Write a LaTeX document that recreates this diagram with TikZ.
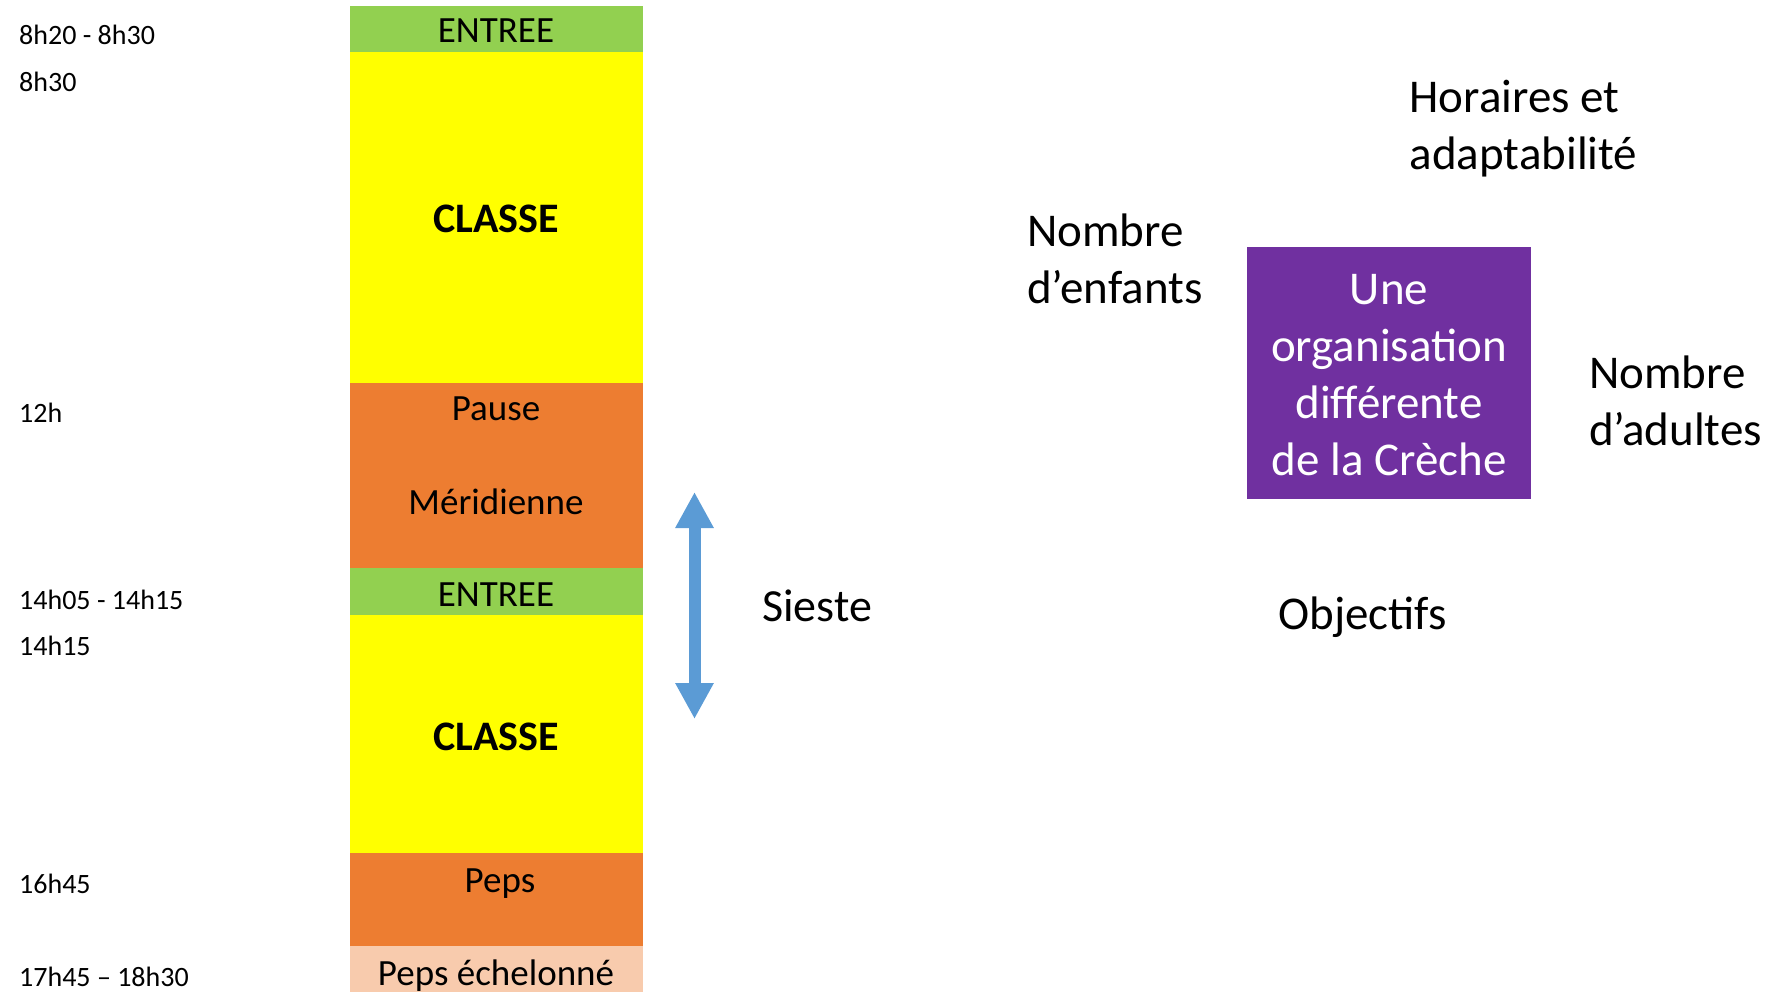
\documentclass[tikz,border=0pt]{standalone}
\usepackage{fontspec}
\setmainfont{Carlito}
\usetikzlibrary{arrows.meta}
\definecolor{cgreen}{HTML}{92D050}
\definecolor{cyellow}{HTML}{FFFF00}
\definecolor{corange}{HTML}{ED7D31}
\definecolor{cpeach}{HTML}{F8CBAD}
\definecolor{cpurple}{HTML}{7030A0}
\definecolor{cblue}{HTML}{5B9BD5}
\tikzset{
  blk/.style={rectangle, inner sep=0pt, minimum width=293.5pt, anchor=north west, draw=none},
  tlabel/.style={anchor=west, inner sep=0pt, font=\fontsize{28}{33}\selectfont},
  clabel/.style={inner sep=0pt, font=\fontsize{37}{44}\selectfont},
  blabel/.style={inner sep=0pt, font=\fontsize{42}{50}\selectfont\bfseries},
  rlabel/.style={anchor=west, inner sep=0pt, align=left, font=\fontsize{47}{57}\selectfont},
}
\begin{document}
\begin{tikzpicture}[x=1pt,y=-1pt]
\useasboundingbox (0,0) rectangle (1791,991);
% column blocks
\node[blk, fill=cgreen, minimum height=45.7pt] (e1) at (349.5,5.7) {};
\node[blk, fill=cyellow, minimum height=331.2pt] (c1) at (349.5,51.4) {};
\node[blk, fill=corange, minimum height=185.1pt] (p1) at (349.5,382.6) {};
\node[blk, fill=cgreen, minimum height=46.8pt] (e2) at (349.5,567.7) {};
\node[blk, fill=cyellow, minimum height=238.7pt] (c2) at (349.5,614.5) {};
\node[blk, fill=corange, minimum height=92.5pt] (pp) at (349.5,853.2) {};
\node[blk, fill=cpeach, minimum height=46pt] (pe) at (349.5,945.7) {};
% column texts
\node[clabel] (te1) at (496,31) {ENTREE};
\node[blabel] (tc1) at (496,219) {CLASSE};
\node[clabel] (tp1) at (496,409) {Pause};
\node[clabel] (tm1) at (496,502) {Méridienne};
\node[clabel] (te2) at (496,595) {ENTREE};
\node[blabel] (tc2) at (496,737) {CLASSE};
\node[clabel] (tpp) at (500,884) {Peps};
\node[clabel] (tpe) at (496,976) {Peps échelonné};
% time labels
\node[tlabel] (h1) at (19,35) {8h20 - 8h30};
\node[tlabel] (h2) at (19,82) {8h30};
\node[tlabel] (h3) at (19,413) {12h};
\node[tlabel] (h4) at (19,600) {14h05 - 14h15};
\node[tlabel] (h5) at (19,646) {14h15};
\node[tlabel] (h6) at (19,884) {16h45};
\node[tlabel] (h7) at (19,977) {17h45 – 18h30};
% sieste arrow
\coordinate (st) at (694.5,492);
\coordinate (sb) at (694.5,719);
\draw[cblue, line width=12pt, {Triangle[width=36pt,length=36pt]}-{Triangle[width=36pt,length=36pt]}] (st) -- (sb);
\node[rlabel, font=\fontsize{46}{55}\selectfont] (sieste) at (762,606) {Sieste};
% right part
\node[rectangle, fill=cpurple, minimum width=284pt, minimum height=252pt, inner sep=0pt] (org) at (1389,373) {};
\node[text=white, inner sep=0pt, align=center, font=\fontsize{47}{57}\selectfont] (orgt) at (1389,375) {Une\\organisation\\différente\\de la Crèche};
\node[rlabel] (hor) at (1409.5,128.5) {Horaires et\\adaptabilité};
\node[rlabel] (enf) at (1027,258.5) {Nombre\\d’enfants};
\node[rlabel] (adu) at (1589,400.5) {Nombre\\d’adultes};
\node[rlabel] (obj) at (1278,617.5) {Objectifs};
\end{tikzpicture}
\end{document}
